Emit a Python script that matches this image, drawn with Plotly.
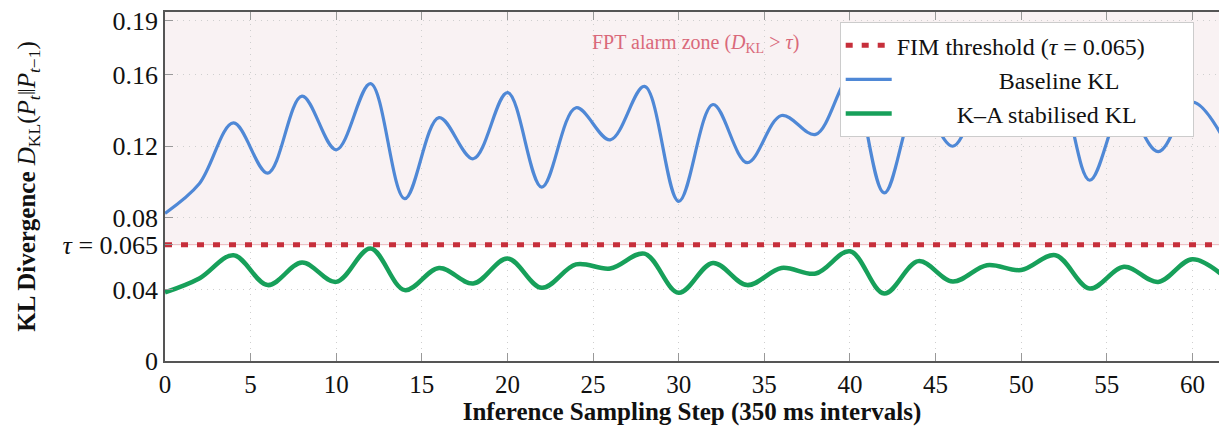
import plotly.graph_objects as go

# Inference sampling steps (every other step is logged)
steps = list(range(0, 64, 2))

# Baseline KL divergence between consecutive predictive distributions
baseline_kl = [0.0825, 0.099, 0.133, 0.105, 0.148, 0.118, 0.155, 0.0907,
               0.136, 0.113, 0.150, 0.0972, 0.1415, 0.1236, 0.1534, 0.0892,
               0.1433, 0.1108, 0.1372, 0.1266, 0.158, 0.0939, 0.145, 0.120,
               0.152, 0.140, 0.155, 0.101, 0.142, 0.117, 0.1446, 0.121]

# K–A stabilised KL divergence
stabilised_kl = [0.0383, 0.0461, 0.0591, 0.0424, 0.055, 0.0442, 0.0628, 0.0396,
                 0.052, 0.0433, 0.0573, 0.0409, 0.054, 0.0517, 0.060, 0.0381,
                 0.0548, 0.0424, 0.052, 0.0489, 0.0613, 0.0377, 0.0558, 0.0444,
                 0.0535, 0.0508, 0.0591, 0.0405, 0.0526, 0.0442, 0.0569, 0.046]

tau = 0.065
y_ticks = [0, 0.04, tau, 0.08, 0.12, 0.16, 0.19]
y_ticktext = ["0", "0.04", "<i>τ</i> = 0.065", "0.08", "0.12", "0.16", "0.19"]
x_ticks = list(range(0, 61, 5))

X_MAX = 61.55
Y_MAX = 0.195

SERIF = "Liberation Serif"
NB = "\u00a0"
GRID = dict(showgrid=True, gridcolor="#cfcfcf", griddash="1px,5px", gridwidth=1)

fig = go.Figure()

# FIM threshold line
fig.add_trace(go.Scatter(
    x=[0, X_MAX], y=[tau, tau], mode="lines",
    name="FIM threshold (<i>τ</i> = 0.065)" + NB * 7,
    line=dict(color="#c62f3b", width=5, dash="7px,9px"),
))

fig.add_trace(go.Scatter(
    x=steps, y=baseline_kl, mode="lines",
    name=NB * 17 + "Baseline KL",
    line=dict(color="#4f88d6", width=3.2, shape="spline", smoothing=1.0),
))

fig.add_trace(go.Scatter(
    x=steps, y=stabilised_kl, mode="lines",
    name=NB * 10 + "K–A stabilised KL",
    line=dict(color="#17a05a", width=4.5, shape="spline", smoothing=1.0),
))

# Alarm zone shading above the threshold
fig.add_shape(type="rect", xref="paper", yref="y", x0=0, x1=1, y0=tau, y1=Y_MAX,
              fillcolor="#f9f2f3", line=dict(width=0), layer="below")
fig.add_shape(type="line", xref="paper", yref="y", x0=0, x1=1, y0=tau, y1=tau,
              line=dict(color="#eeb3b9", width=1), layer="below")

fig.add_annotation(
    x=31, y=0.1775, xref="x", yref="y", showarrow=False,
    text="FPT alarm zone (<i>D</i><sub>KL</sub> > <i>τ</i>)",
    font=dict(family=SERIF, size=20, color="#d9697a"),
)

fig.update_layout(
    width=1219, height=429,
    margin=dict(l=165, r=0, t=12, b=68),
    paper_bgcolor="white", plot_bgcolor="white",
    font=dict(family=SERIF, size=25, color="#111"),
    showlegend=True,
    legend=dict(
        x=0.976, y=0.971, xanchor="right", yanchor="top",
        bgcolor="white", bordercolor="#cccccc", borderwidth=1,
        font=dict(family=SERIF, size=24, color="#111"),
        itemwidth=46, tracegroupgap=0,
    ),
    xaxis=dict(
        range=[0, X_MAX], tickvals=x_ticks,
        showline=True, linecolor="#555", linewidth=1.5, mirror="ticks",
        ticks="inside", ticklen=8, tickcolor="#999", tickwidth=1,
        zeroline=False, **GRID,
        tickfont=dict(family=SERIF, size=25),
        title=dict(text="<b>Inference Sampling Step (350 ms intervals)</b>",
                   font=dict(family=SERIF, size=25), standoff=6),
    ),
    yaxis=dict(
        range=[0, Y_MAX], tickvals=y_ticks, ticktext=y_ticktext,
        showline=True, linecolor="#555", linewidth=1.5,
        ticks="inside", ticklen=8, tickcolor="#999", tickwidth=1,
        zeroline=False, **GRID,
        tickfont=dict(family=SERIF, size=26),
        title=dict(text="<b>KL Divergence</b> <i>D</i><sub>KL</sub>(<i>P<sub>t</sub></i>‖<i>P</i><sub><i>t</i>−1</sub>)",
                   font=dict(family=SERIF, size=25), standoff=20),
    ),
)

fig.write_html("out.html")
